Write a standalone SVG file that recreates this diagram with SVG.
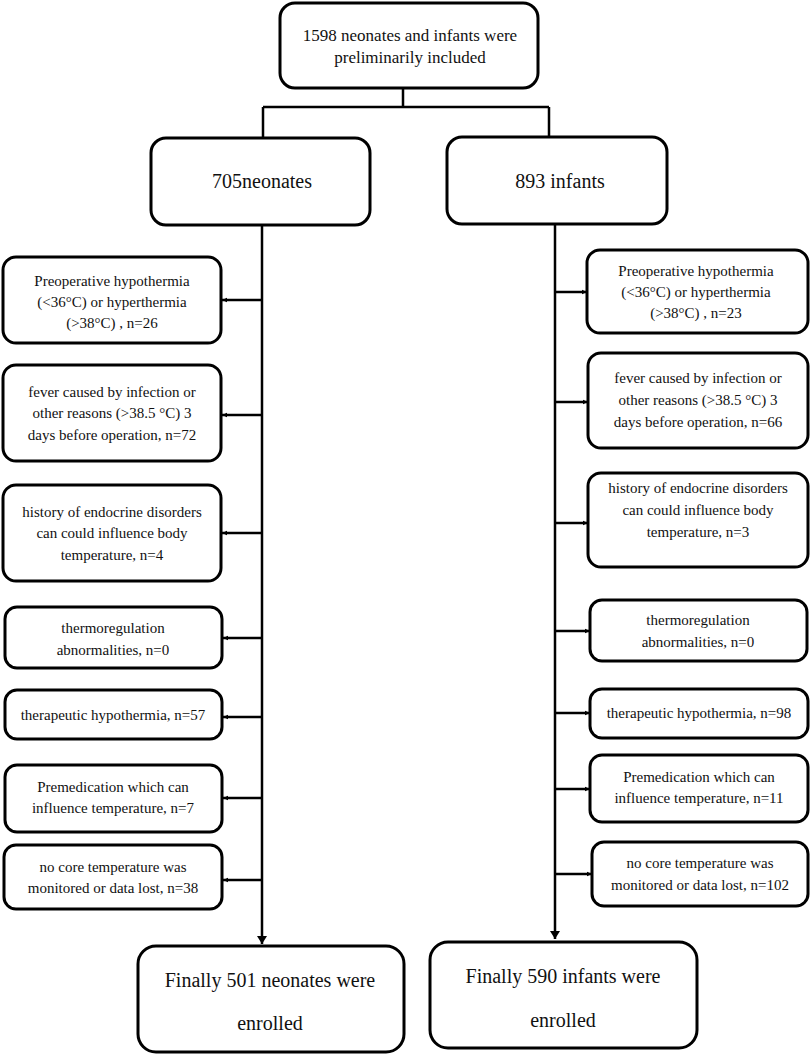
<svg xmlns="http://www.w3.org/2000/svg" width="810" height="1056" viewBox="0 0 810 1056">
<style>
.box{fill:#fff;stroke:#000;stroke-width:3}
.ln{fill:none;stroke:#000;stroke-width:2.5}
.t{font-family:"Liberation Serif","Times New Roman",serif;fill:#111;text-anchor:middle}
.s{font-size:15px}
.m{font-size:17px}
.b{font-size:20px}
</style>
<defs>
<marker id="ah" markerWidth="6" markerHeight="6" refX="5" refY="3" orient="auto" markerUnits="userSpaceOnUse">
<path d="M0,0.8 L5,3 L0,5.2 Z" fill="#000"/>
</marker>
<marker id="ahb" markerWidth="10" markerHeight="10" refX="8" refY="5" orient="auto" markerUnits="userSpaceOnUse">
<path d="M0,0 L8,5 L0,10 Z" fill="#000"/>
</marker>
</defs>
<rect width="810" height="1056" fill="#fff"/>
<g id="connectors">
<path class="ln" d="M403,88 V107 M263,107 H549 M263,107 V138 M549,107 V137"/>
<path class="ln" d="M262,225 V944" marker-end="url(#ahb)"/>
<path class="ln" d="M555,224 V939" marker-end="url(#ahb)"/>
<path class="ln" marker-end="url(#ah)" d="M262,300 H222"/>
<path class="ln" marker-end="url(#ah)" d="M262,415 H222"/>
<path class="ln" marker-end="url(#ah)" d="M262,533 H222"/>
<path class="ln" marker-end="url(#ah)" d="M262,638 H223"/>
<path class="ln" marker-end="url(#ah)" d="M262,717 H223"/>
<path class="ln" marker-end="url(#ah)" d="M262,798 H223"/>
<path class="ln" marker-end="url(#ah)" d="M262,880 H223"/>
<path class="ln" marker-end="url(#ah)" d="M555,292 H587"/>
<path class="ln" marker-end="url(#ah)" d="M555,402 H588"/>
<path class="ln" marker-end="url(#ah)" d="M555,523 H588"/>
<path class="ln" marker-end="url(#ah)" d="M555,631 H590"/>
<path class="ln" marker-end="url(#ah)" d="M555,713 H590"/>
<path class="ln" marker-end="url(#ah)" d="M555,789 H590"/>
<path class="ln" marker-end="url(#ah)" d="M555,874 H592"/>
</g>
<g id="top"><rect class="box" x="280" y="3" width="258" height="85" rx="15"/>
<text class="t m" x="410" y="41">1598 neonates and infants were</text>
<text class="t m" x="410" y="63">preliminarily included</text></g>
<g id="neonates"><rect class="box" x="151" y="138" width="219" height="87" rx="15"/>
<text class="t b" x="262" y="188">705neonates</text></g>
<g id="infants"><rect class="box" x="447" y="137" width="220" height="87" rx="15"/>
<text class="t b" x="560" y="188">893 infants</text></g>

<g id="L1"><rect class="box" x="3" y="257" width="218" height="86" rx="13"/>
<text class="t s" x="112" y="286">Preoperative hypothermia</text>
<text class="t s" x="112" y="307">(&lt;36°C) or hyperthermia</text>
<text class="t s" x="112" y="328">(&gt;38°C) , n=26</text></g>
<g id="L2"><rect class="box" x="3" y="365" width="218" height="96" rx="13"/>
<text class="t s" x="112" y="397">fever caused by infection or</text>
<text class="t s" x="112" y="418">other reasons (&gt;38.5 °C) 3</text>
<text class="t s" x="112" y="440">days before operation, n=72</text></g>
<g id="L3"><rect class="box" x="3" y="485" width="218" height="96" rx="13"/>
<text class="t s" x="112" y="517">history of endocrine disorders</text>
<text class="t s" x="112" y="538">can could influence body</text>
<text class="t s" x="112" y="560">temperature, n=4</text></g>
<g id="L4"><rect class="box" x="5" y="607" width="217" height="61" rx="12"/>
<text class="t s" x="113" y="633">thermoregulation</text>
<text class="t s" x="113" y="655">abnormalities, n=0</text></g>
<g id="L5"><rect class="box" x="5" y="690" width="217" height="49" rx="12"/>
<text class="t s" x="113" y="720">therapeutic hypothermia, n=57</text></g>
<g id="L6"><rect class="box" x="5" y="765" width="217" height="67" rx="12"/>
<text class="t s" x="113" y="792">Premedication which can</text>
<text class="t s" x="113" y="813">influence temperature, n=7</text></g>
<g id="L7"><rect class="box" x="4" y="845" width="218" height="64" rx="12"/>
<text class="t s" x="113" y="872">no core temperature was</text>
<text class="t s" x="113" y="893">monitored or data lost, n=38</text></g>

<g id="R1"><rect class="box" x="587" y="250" width="221" height="83" rx="13"/>
<text class="t s" x="696" y="276">Preoperative hypothermia</text>
<text class="t s" x="696" y="297">(&lt;36°C) or hyperthermia</text>
<text class="t s" x="696" y="318">(&gt;38°C) , n=23</text></g>
<g id="R2"><rect class="box" x="588" y="353" width="220" height="95" rx="13"/>
<text class="t s" x="698" y="383">fever caused by infection or</text>
<text class="t s" x="698" y="405">other reasons (&gt;38.5 °C) 3</text>
<text class="t s" x="698" y="427">days before operation, n=66</text></g>
<g id="R3"><rect class="box" x="588" y="473" width="220" height="94" rx="13"/>
<text class="t s" x="698" y="493">history of endocrine disorders</text>
<text class="t s" x="698" y="515">can could influence body</text>
<text class="t s" x="698" y="537">temperature, n=3</text></g>
<g id="R4"><rect class="box" x="590" y="600" width="217" height="61" rx="12"/>
<text class="t s" x="698" y="625">thermoregulation</text>
<text class="t s" x="698" y="647">abnormalities, n=0</text></g>
<g id="R5"><rect class="box" x="590" y="689" width="218" height="49" rx="12"/>
<text class="t s" x="699" y="718">therapeutic hypothermia, n=98</text></g>
<g id="R6"><rect class="box" x="590" y="755" width="218" height="67" rx="12"/>
<text class="t s" x="699" y="782">Premedication which can</text>
<text class="t s" x="699" y="803">influence temperature, n=11</text></g>
<g id="R7"><rect class="box" x="592" y="842" width="216" height="64" rx="12"/>
<text class="t s" x="700" y="868">no core temperature was</text>
<text class="t s" x="700" y="890">monitored or data lost, n=102</text></g>

<g id="final-neonates"><rect class="box" x="138" y="946" width="266" height="106" rx="18"/>
<text class="t b" x="270" y="987">Finally 501 neonates were</text>
<text class="t b" x="270" y="1030">enrolled</text></g>
<g id="final-infants"><rect class="box" x="430" y="942" width="267" height="106" rx="18"/>
<text class="t b" x="563" y="983">Finally 590 infants were</text>
<text class="t b" x="563" y="1027">enrolled</text></g>
</svg>
